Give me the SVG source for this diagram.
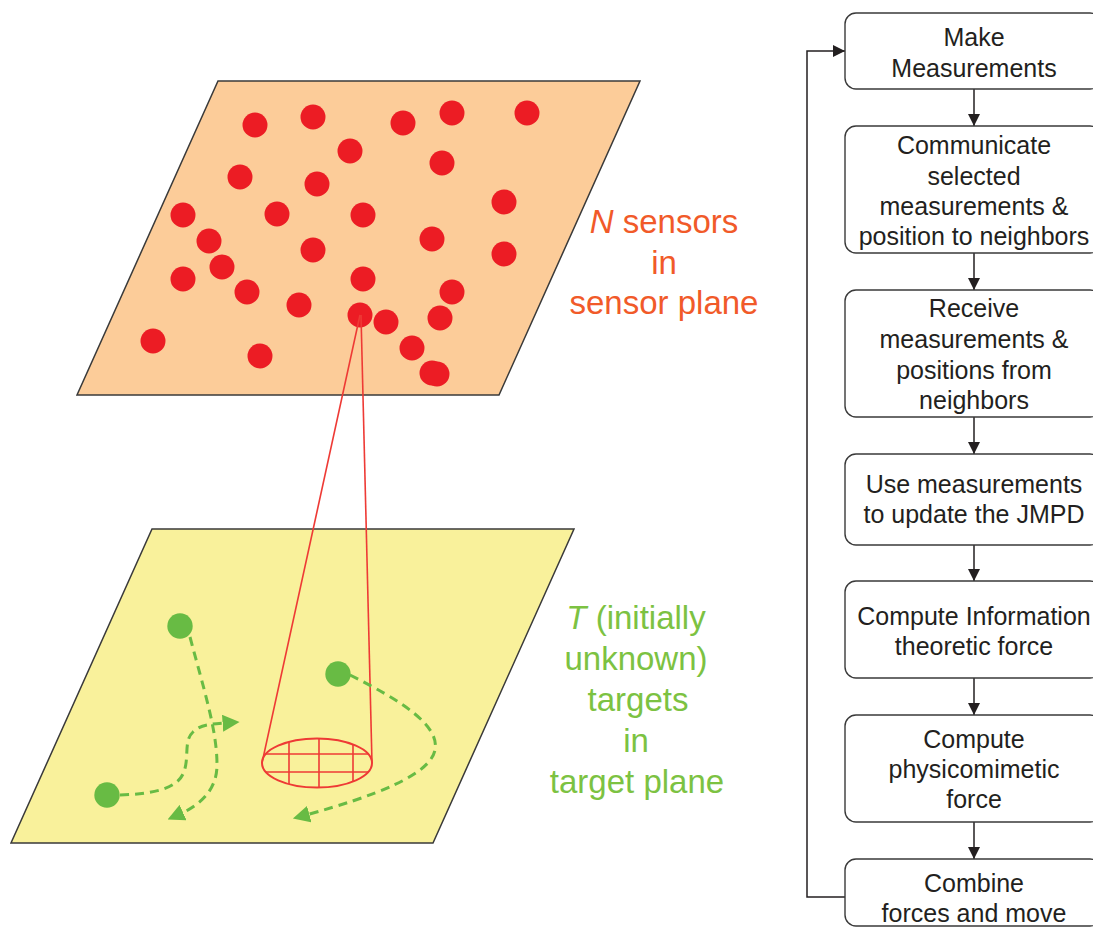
<svg xmlns="http://www.w3.org/2000/svg" width="1093" height="932" viewBox="0 0 1093 932">
<style>
.plane{stroke:#3a3a3a;stroke-width:1.5}
.sd{fill:#ec1c24}
.td{fill:#68bb44}
.dash{fill:none;stroke:#68bb44;stroke-width:3;stroke-dasharray:9 6}
.red{fill:none;stroke:#ee3a35;stroke-width:1.6}
.box{fill:#fff;stroke:#3a3a3a;stroke-width:1.4}
.bt{font-family:"Liberation Sans",Arial,sans-serif;font-size:25px;fill:#231f20;text-anchor:middle}
.lbl{font-family:"Liberation Sans",Arial,sans-serif;font-size:33px;text-anchor:middle}
.flow{fill:none;stroke:#231f20;stroke-width:1.5}
</style>
<defs>
<marker id="ah" viewBox="0 0 10 10" refX="10" refY="5" markerWidth="12" markerHeight="12" markerUnits="userSpaceOnUse" orient="auto">
<path d="M0,0 L10,5 L0,10 Z" fill="#231f20"/>
</marker>
<marker id="gh" viewBox="0 0 10 10" refX="2" refY="5" markerWidth="17" markerHeight="17" markerUnits="userSpaceOnUse" orient="auto">
<path d="M0,0 L10,5 L0,10 Z" fill="#68bb44"/>
</marker>
<clipPath id="ec"><ellipse cx="317" cy="763" rx="55" ry="24.5"/></clipPath>
</defs>

<g id="sensor-plane">
<polygon class="plane" points="218,81 640,81 499,395 77,395" fill="#fccc99"/>
<g class="sd">
<circle cx="255" cy="125" r="12.5"/>
<circle cx="313" cy="117" r="12.5"/>
<circle cx="350" cy="151" r="12.5"/>
<circle cx="240" cy="177" r="12.5"/>
<circle cx="317" cy="184" r="12.5"/>
<circle cx="183" cy="215" r="12.5"/>
<circle cx="277" cy="214" r="12.5"/>
<circle cx="363" cy="215" r="12.5"/>
<circle cx="209" cy="241" r="12.5"/>
<circle cx="313" cy="250" r="12.5"/>
<circle cx="222" cy="267" r="12.5"/>
<circle cx="183" cy="279" r="12.5"/>
<circle cx="363" cy="279" r="12.5"/>
<circle cx="247" cy="292" r="12.5"/>
<circle cx="299" cy="305" r="12.5"/>
<circle cx="360" cy="315" r="12.5"/>
<circle cx="153" cy="341" r="12.5"/>
<circle cx="260" cy="356" r="12.5"/>
<circle cx="403" cy="123" r="12.5"/>
<circle cx="452" cy="113" r="12.5"/>
<circle cx="527" cy="113" r="12.5"/>
<circle cx="442" cy="163" r="12.5"/>
<circle cx="504" cy="202" r="12.5"/>
<circle cx="432" cy="239" r="12.5"/>
<circle cx="504" cy="254" r="12.5"/>
<circle cx="452" cy="292" r="12.5"/>
<circle cx="386" cy="322" r="12.5"/>
<circle cx="440" cy="318" r="12.5"/>
<circle cx="412" cy="348" r="12.5"/>
<circle cx="432" cy="373" r="12.5"/>
<circle cx="437" cy="374" r="12.5"/>
</g>
</g>

<g id="target-plane">
<polygon class="plane" points="152,529 574,529 433,843 11,843" fill="#f9f19b"/>
<circle class="td" cx="180" cy="626" r="12.7"/>
<circle class="td" cx="338" cy="674" r="12.7"/>
<circle class="td" cx="107" cy="795" r="12.7"/>
</g>

<g id="sensing-cone">
<line class="red" x1="360" y1="315" x2="262" y2="763"/>
<line class="red" x1="361" y1="315" x2="372" y2="763"/>
<ellipse cx="317" cy="763" rx="55" ry="24.5" fill="none" stroke="#ee3a35" stroke-width="2"/>
<g clip-path="url(#ec)" stroke="#ee3a35" stroke-width="1.6">
<line x1="260" y1="754" x2="375" y2="754"/>
<line x1="260" y1="772" x2="375" y2="772"/>
<line x1="289" y1="735" x2="289" y2="790"/>
<line x1="319" y1="735" x2="319" y2="790"/>
<line x1="353" y1="735" x2="353" y2="790"/>
</g>
</g>

<g id="target-tracks">
<path class="dash" d="M190,637 C204,690 217,730 217,765 C217,790 200,805 180,814" marker-end="url(#gh)"/>
<path class="dash" d="M120,795 C152,794 176,789 183,774 C190,759 183,741 193,732 C201,724 212,724 226,723" marker-end="url(#gh)"/>
<path class="dash" d="M350,675 C400,700 440,725 435,750 C430,775 375,796 306,815" marker-end="url(#gh)"/>
</g>

<g id="labels">
<text class="lbl" fill="#f15a29"><tspan x="664" y="233"><tspan font-style="italic">N</tspan> sensors</tspan><tspan x="664" y="274">in</tspan><tspan x="664" y="314">sensor plane</tspan></text>
<text class="lbl" fill="#7cc242"><tspan x="636" y="629"><tspan font-style="italic">T</tspan> (initially</tspan><tspan x="636" y="670">unknown)</tspan><tspan x="638" y="711">targets</tspan><tspan x="636" y="752">in</tspan><tspan x="637" y="793">target plane</tspan></text>
</g>

<g id="connectors">
<line class="flow" x1="974" y1="89" x2="974" y2="126" marker-end="url(#ah)"/>
<line class="flow" x1="974" y1="253" x2="974" y2="290" marker-end="url(#ah)"/>
<line class="flow" x1="974" y1="417" x2="974" y2="454" marker-end="url(#ah)"/>
<line class="flow" x1="974" y1="545" x2="974" y2="581" marker-end="url(#ah)"/>
<line class="flow" x1="974" y1="678" x2="974" y2="715" marker-end="url(#ah)"/>
<line class="flow" x1="974" y1="822" x2="974" y2="859" marker-end="url(#ah)"/>
<path class="flow" d="M845,897 H807 V51 H845" marker-end="url(#ah)"/>
</g>

<g id="box1"><rect class="box" x="845" y="13" width="256" height="76" rx="11"/>
<text class="bt"><tspan x="974" y="46">Make</tspan><tspan x="974" y="77">Measurements</tspan></text></g>
<g id="box2"><rect class="box" x="845" y="126" width="256" height="127" rx="11"/>
<text class="bt"><tspan x="974" y="154">Communicate</tspan><tspan x="974" y="185">selected</tspan><tspan x="974" y="215">measurements &amp;</tspan><tspan x="974" y="245">position to neighbors</tspan></text></g>
<g id="box3"><rect class="box" x="845" y="290" width="256" height="127" rx="11"/>
<text class="bt"><tspan x="974" y="317">Receive</tspan><tspan x="974" y="348">measurements &amp;</tspan><tspan x="974" y="379">positions from</tspan><tspan x="974" y="409">neighbors</tspan></text></g>
<g id="box4"><rect class="box" x="845" y="454" width="256" height="91" rx="11"/>
<text class="bt"><tspan x="974" y="493">Use measurements</tspan><tspan x="974" y="523">to update the JMPD</tspan></text></g>
<g id="box5"><rect class="box" x="845" y="581" width="256" height="97" rx="11"/>
<text class="bt"><tspan x="974" y="625">Compute Information</tspan><tspan x="974" y="655">theoretic force</tspan></text></g>
<g id="box6"><rect class="box" x="845" y="715" width="256" height="107" rx="11"/>
<text class="bt"><tspan x="974" y="748">Compute</tspan><tspan x="974" y="778">physicomimetic</tspan><tspan x="974" y="808">force</tspan></text></g>
<g id="box7"><rect class="box" x="845" y="859" width="256" height="67" rx="11"/>
<text class="bt"><tspan x="974" y="892">Combine</tspan><tspan x="974" y="922">forces and move</tspan></text></g>
</svg>
